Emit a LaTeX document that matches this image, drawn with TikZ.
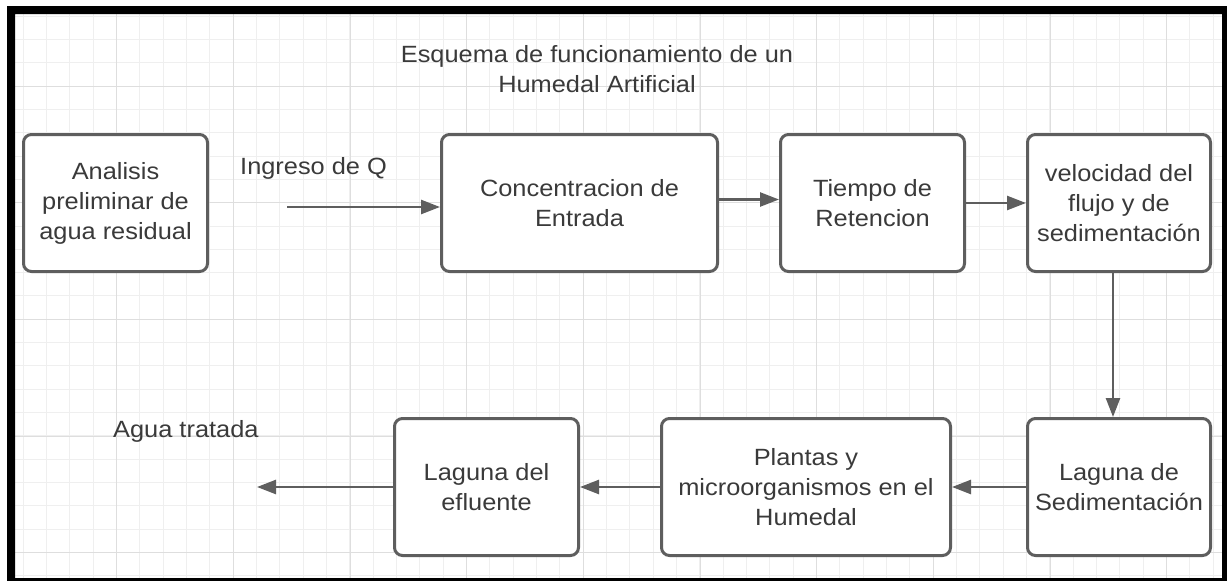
\documentclass[tikz,border=0pt]{standalone}
\usepackage{fontspec}
\setmainfont{Liberation Sans}[FakeStretch=1.08]
\usetikzlibrary{arrows.meta}
\definecolor{trazo}{HTML}{5E5E5E}
\definecolor{letra}{HTML}{3A3A3A}
\definecolor{rejillaclara}{HTML}{EFEFEF}
\definecolor{rejillaosc}{HTML}{DEDEDE}

\begin{document}
\begin{tikzpicture}[x=1pt, y=-1pt,
        caja/.style={draw=trazo, line width=3pt, rounded corners=8pt, fill=white, inner sep=0pt,
            align=center, text=letra, font=\fontsize{23.5}{30}\selectfont},
        flujo/.style={draw=trazo, line width=2.5pt, -{Triangle[length=19pt,width=14pt]}},
        rotulo/.style={text=letra, inner sep=0pt, font=\fontsize{23.5}{30}\selectfont}]
        \useasboundingbox (0,0) rectangle (1227,581);
        \fill[white] (0,0) rectangle (1227,581);

        \begin{scope}
            \clip (15,14) rectangle (1222,578);
            \foreach \i in {1,...,52} \draw[rejillaclara, line width=1pt] (\i*23.333,14) -- (\i*23.333,578);
            \foreach \j in {0,...,24} \draw[rejillaclara, line width=1pt] (15,16+\j*23.333) -- (1222,16+\j*23.333);
            \foreach \i in {1,...,10} \draw[rejillaosc, line width=1pt] (\i*116.667,14) -- (\i*116.667,578);
            \foreach \j in {0,...,4} \draw[rejillaosc, line width=1pt] (15,86+\j*116.667) -- (1222,86+\j*116.667);
        \end{scope}
        \fill[black, even odd rule] (7,6) rectangle (1227,581) (15,14) rectangle (1222,578);

        \node[rotulo, align=center] (titulo) at (597,69) {Esquema de funcionamiento de un\\Humedal Artificial};

        \node[caja, minimum width=184pt, minimum height=137pt] (analisis) at (115.5,203) {Analisis\\preliminar de\\agua residual};
        \node[caja, minimum width=276pt, minimum height=137pt] (concentracion) at (579.5,203) {Concentracion de\\Entrada};
        \node[caja, minimum width=184pt, minimum height=137pt] (tiempo) at (872.5,203) {Tiempo de\\Retencion};
        \node[caja, minimum width=183pt, minimum height=137pt] (velocidad) at (1119,203) {velocidad del\\flujo y de\\sedimentación};
        \node[caja, minimum width=183pt, minimum height=137pt] (lagsed) at (1119,487) {Laguna de\\Sedimentación};
        \node[caja, minimum width=289pt, minimum height=137pt] (plantas) at (806,487) {Plantas y\\microorganismos en el\\Humedal};
        \node[caja, minimum width=184pt, minimum height=137pt] (efluente) at (486.5,487) {Laguna del\\efluente};

        \node[rotulo, anchor=base west] (ingresotxt) at (240,174) {Ingreso de Q};
        \node[rotulo, anchor=base west] (aguatxt) at (113,437) {Agua tratada};

        \coordinate (ingreso) at (287,207);
        \coordinate (salida) at (257,487);

        \draw[flujo] (ingreso) -- (ingreso -| concentracion.west);
        \draw[flujo] ([yshift=3.5pt]concentracion.east) -- ([yshift=3.5pt]tiempo.west);
        \draw[flujo] (tiempo) -- (velocidad);
        \draw[flujo] ([xshift=-6pt]velocidad.south) -- ([xshift=-6pt]lagsed.north);
        \draw[flujo] (lagsed) -- (plantas);
        \draw[flujo] (plantas) -- (efluente);
        \draw[flujo] (efluente) -- (salida);
    \end{tikzpicture}
\end{document}
